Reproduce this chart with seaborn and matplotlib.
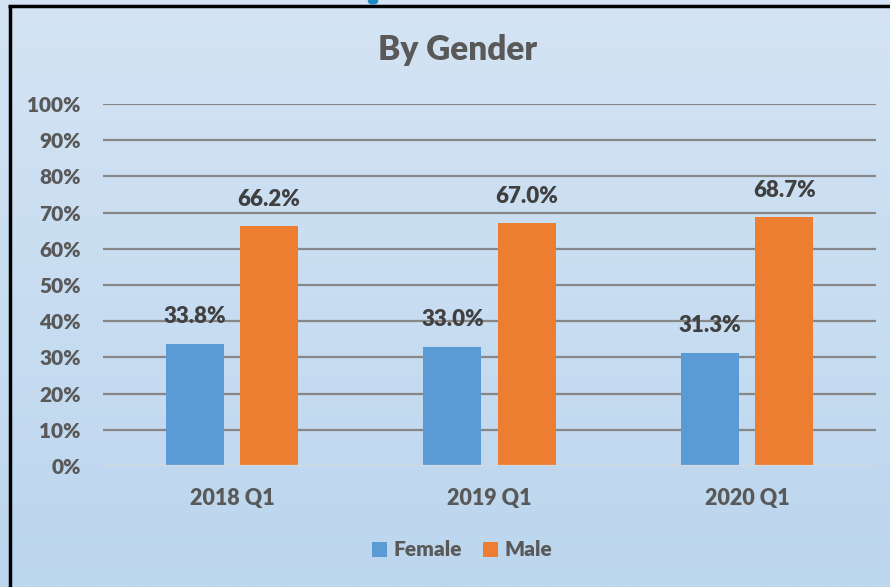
import matplotlib
matplotlib.use("Agg")
import matplotlib.pyplot as plt
import seaborn as sns
import numpy as np
import pandas as pd
from matplotlib.patches import Patch, Ellipse

categories = ["2018 Q1", "2019 Q1", "2020 Q1"]
female = [33.8, 33.0, 31.3]
male = [66.2, 67.0, 68.7]
series = ["Female", "Male"]
colors = ["#5B9BD5", "#ED7D31"]
yticks = [0, 10, 20, 30, 40, 50, 60, 70, 80, 90, 100]

df = pd.DataFrame({
    "Quarter": categories * 2,
    "Gender": ["Female"] * 3 + ["Male"] * 3,
    "Value": [v / 100 for v in female + male],
})

sns.set_theme(style="white")
plt.rcParams["font.family"] = ["Lato", "DejaVu Sans"]
plt.rcParams["font.weight"] = "bold"

fig = plt.figure(figsize=(8.9, 5.87), dpi=100)

# gradient background
bg = fig.add_axes([0, 0, 1, 1], zorder=-10)
grad = np.linspace(0, 1, 256).reshape(-1, 1)
c_top = np.array([0xD4, 0xE4, 0xF4]) / 255
c_bot = np.array([0xBC, 0xD6, 0xEE]) / 255
img = c_top[None, None, :] * (1 - grad[:, :, None]) + c_bot[None, None, :] * grad[:, :, None]
bg.imshow(img, aspect="auto", extent=[0, 1, 0, 1], origin="upper")
bg.set_xlim(0, 1); bg.set_ylim(0, 1)
bg.axis("off")
# black frame lines (left and top)
bg.plot([9.5 / 890, 9.5 / 890], [0, 1 - 5.5 / 587], color="black", lw=2.5, solid_capstyle="butt")
bg.plot([8 / 890, 1], [1 - 5.5 / 587, 1 - 5.5 / 587], color="black", lw=2.5, solid_capstyle="butt")
# clipped piece of a blue heading above the frame
bg.add_patch(Ellipse((373 / 890, 1 - 1 / 587), 9 / 890, 6 / 587, color="#1F8AC0", zorder=5))

ax = fig.add_axes([103 / 890, 1 - 466 / 587, (876 - 103) / 890, (466 - 104) / 587])
ax.patch.set_alpha(0)

sns.barplot(data=df, x="Quarter", y="Value", hue="Gender", hue_order=series,
            palette=colors, saturation=1, width=0.575, gap=0.216, ax=ax, legend=False,
            edgecolor="none", linewidth=0, zorder=3)

ax.set_ylim(0, 1)
ax.set_xlim(-0.5, 2.5)
ax.set_yticks([t / 100 for t in yticks])
ax.set_yticklabels([f"{t}%" for t in yticks])
for t in yticks[1:]:
    ax.axhline(t / 100, color="#878787", lw=1.6, zorder=1)
ax.axhline(0, color="#D9D9D9", lw=1.6, zorder=4)
ax.tick_params(axis="y", length=0, pad=16, labelsize=15, labelcolor="#595959")
ax.tick_params(axis="x", length=0, pad=16, labelsize=15.5, labelcolor="#595959")
for lbl in ax.get_xticklabels() + ax.get_yticklabels():
    lbl.set_fontweight("heavy")
ax.set_xlabel("")
ax.set_ylabel("")
for s in ax.spines.values():
    s.set_visible(False)

for cont in ax.containers:
    for bar in cont:
        h = bar.get_height()
        ax.annotate(f"{h * 100:.1f}%", (bar.get_x() + bar.get_width() / 2, h),
                    xytext=(0, 12), textcoords="offset points", ha="center", va="bottom",
                    fontsize=16, fontweight="heavy", color="#404040", zorder=5)

fig.text(458 / 890, 1 - 50 / 587, "By Gender", ha="center", va="center",
         fontsize=24, fontweight="heavy", color="#595959")

handles = [Patch(facecolor=c, edgecolor="none") for c in colors]
fig.legend(handles, series, loc="center", bbox_to_anchor=(462 / 890, 1 - 550 / 587),
           ncol=2, frameon=False, handlelength=0.75, handleheight=0.75,
           handletextpad=0.3, columnspacing=1.0, labelcolor="#595959",
           prop={"weight": "heavy", "size": 15})

fig.savefig("out.png", dpi=100)
